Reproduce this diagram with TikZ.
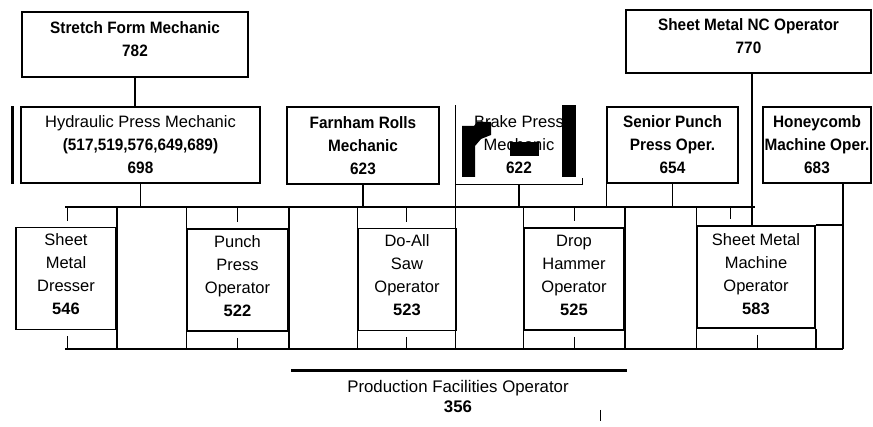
\documentclass[tikz,border=0pt]{standalone}
\usepackage{fontspec}
\setmainfont{Liberation Sans}
\newfontfamily\narrowsans{Liberation Sans}[FakeStretch=0.93]
\usetikzlibrary{positioning}

\newcommand{\lift}[1]{\rule[-#1]{0pt}{1pt}}

\begin{document}
\begin{tikzpicture}[x=1pt, y=-1pt,
    topbox/.style={draw, line width=1.3pt, inner sep=0pt, align=center,
                   font=\fontsize{16.5}{23}\narrowsans\bfseries},
    jobbox/.style={draw, line width=1.6pt, inner sep=0pt, align=center,
                   minimum width=100pt, minimum height=102pt,
                   font=\fontsize{16.5}{23}\selectfont},
    bus/.style={line width=2.2pt},
    link/.style={line width=1.4pt},
    tick/.style={line width=1pt},
    blot/.style={fill=black, draw=none}
]
\useasboundingbox (0,0) rectangle (873,427);

% upper row
\node[topbox, minimum width=226pt, minimum height=65pt] (stretch) at (135,44.5)
    {Stretch Form Mechanic\\782\lift{11pt}};
\node[topbox, minimum width=245pt, minimum height=63pt] (nc) at (748.5,41.5)
    {Sheet Metal NC Operator\\770\lift{11pt}};

\node[topbox, minimum width=239pt, minimum height=76pt] (hydraulic) at (140.5,145)
    {{\normalfont Hydraulic Press Mechanic}\\(517,519,576,649,689)\\698};
\node[topbox, minimum width=152pt, minimum height=77pt] (farnham) at (363,145.5)
    {Farnham Rolls\\Mechanic\\623};
\node[topbox, draw=none, minimum width=126pt, minimum height=78pt] (brake) at (519,145)
    {{\normalfont Brake Press}\\{\normalfont Mechanic}\\622};
\node[topbox, minimum width=131pt, minimum height=76pt] (senior) at (672.5,145)
    {Senior Punch\\Press Oper.\\654};
\node[topbox, minimum width=108pt, minimum height=76pt] (honey) at (817,145)
    {Honeycomb\\Machine Oper.\\683};

% lower row
\node[jobbox] (dresser) at (66,278.5) {Sheet\\Metal\\Dresser\\\textbf{546}\lift{8pt}};
\node[jobbox, minimum width=101pt] (punch) at (237.5,280) {Punch\\Press\\Operator\\\textbf{522}\lift{8pt}};
\node[jobbox, minimum width=98pt] (saw) at (407,279.5) {Do-All\\Saw\\Operator\\\textbf{523}\lift{8pt}};
\node[jobbox] (drop) at (574,279) {Drop\\Hammer\\Operator\\\textbf{525}\lift{8pt}};
\node[jobbox, minimum width=118pt] (machine) at (756,277)
    {Sheet Metal\\Machine\\Operator\\\textbf{583}\lift{6pt}};

\node[font=\fontsize{16.8}{20}\selectfont, align=center] (prod) at (458,397)
    {Production Facilities Operator\\\textbf{356}};

\coordinate (busL)  at (65,207);
\coordinate (busR)  at (755,207);
\coordinate (baseL) at (65,349);
\coordinate (baseR) at (843,349);
\coordinate (prodL) at (291,371);
\coordinate (prodR) at (627,371);

% buses
\draw[bus] (busL) -- (busR);
\draw[bus] (baseL) -- (baseR);
\draw[bus, line width=3pt] (prodL) -- (prodR);

% upper links
\draw[link] (stretch.south) -- (stretch.south |- hydraulic.north);
\draw[link] (hydraulic.south) -- (hydraulic.south |- busL);
\draw[link] (farnham.south) -- (farnham.south |- busL);
\draw[link] (brake.south) -- (brake.south |- busL);
\draw[link] (senior.south) -- (senior.south |- busL);
\draw[link] (senior.south west) -- (senior.south west |- busL);
\draw[link] ([xshift=3.5pt]nc.south) -- ([xshift=3.5pt]nc.south |- machine.north);
\draw[link] (baseR |- honey.south) -- (baseR);
\draw[line width=3pt] ([xshift=-8pt]hydraulic.north west) -- ([xshift=-8pt]hydraulic.south west);

% brake press frame
\draw[link] (brake.north west) -- (brake.south west |- baseL);
\draw[link] (brake.south west) -- (brake.south east) -- ++(0,-7);

% side rails of the lower row
\draw[link] (dresser.north east |- busL) -- (dresser.south east |- baseL);
\draw[link] (punch.north west |- busL) -- (punch.south west |- baseL);
\draw[link] (punch.north east |- busL) -- (punch.south east |- baseL);
\draw[link] (saw.north west |- busL) -- (saw.south west |- baseL);
\draw[link] (drop.north west |- busL) -- (drop.south west |- baseL);
\draw[link] (drop.north east |- busL) -- (drop.south east |- baseL);
\draw[link] (machine.north west |- busL) -- (machine.south west |- baseL);
\draw[link] (machine.south east) -- (machine.south east |- baseL);
\draw[link] (machine.north east) -- (baseR |- machine.north);

% ticks
\foreach \job/\up/\dn in {dresser/1/1, punch/0/0, saw/-1/-1, drop/0/0, machine/-26/1} {
  \draw[tick, shorten >=6pt] ([xshift=\up pt]\job.north |- busL) -- ([xshift=\up pt]\job.north);
  \draw[tick, shorten <=6pt] ([xshift=\dn pt]\job.south) -- ([xshift=\dn pt]\job.south |- baseL);
}
\draw[tick] (600,410) -- (600,421);

% blots over the brake press box
\fill[blot] (462,177) -- (462,126) -- (474,126) -- (477,122) -- (491,122)
    -- (491,135) -- (481,139) -- (475,146) -- (475,177) -- cycle;
\fill[blot] (562,105) rectangle (576,177);
\fill[blot] (510,142) rectangle (539,156);

\end{tikzpicture}
\end{document}
